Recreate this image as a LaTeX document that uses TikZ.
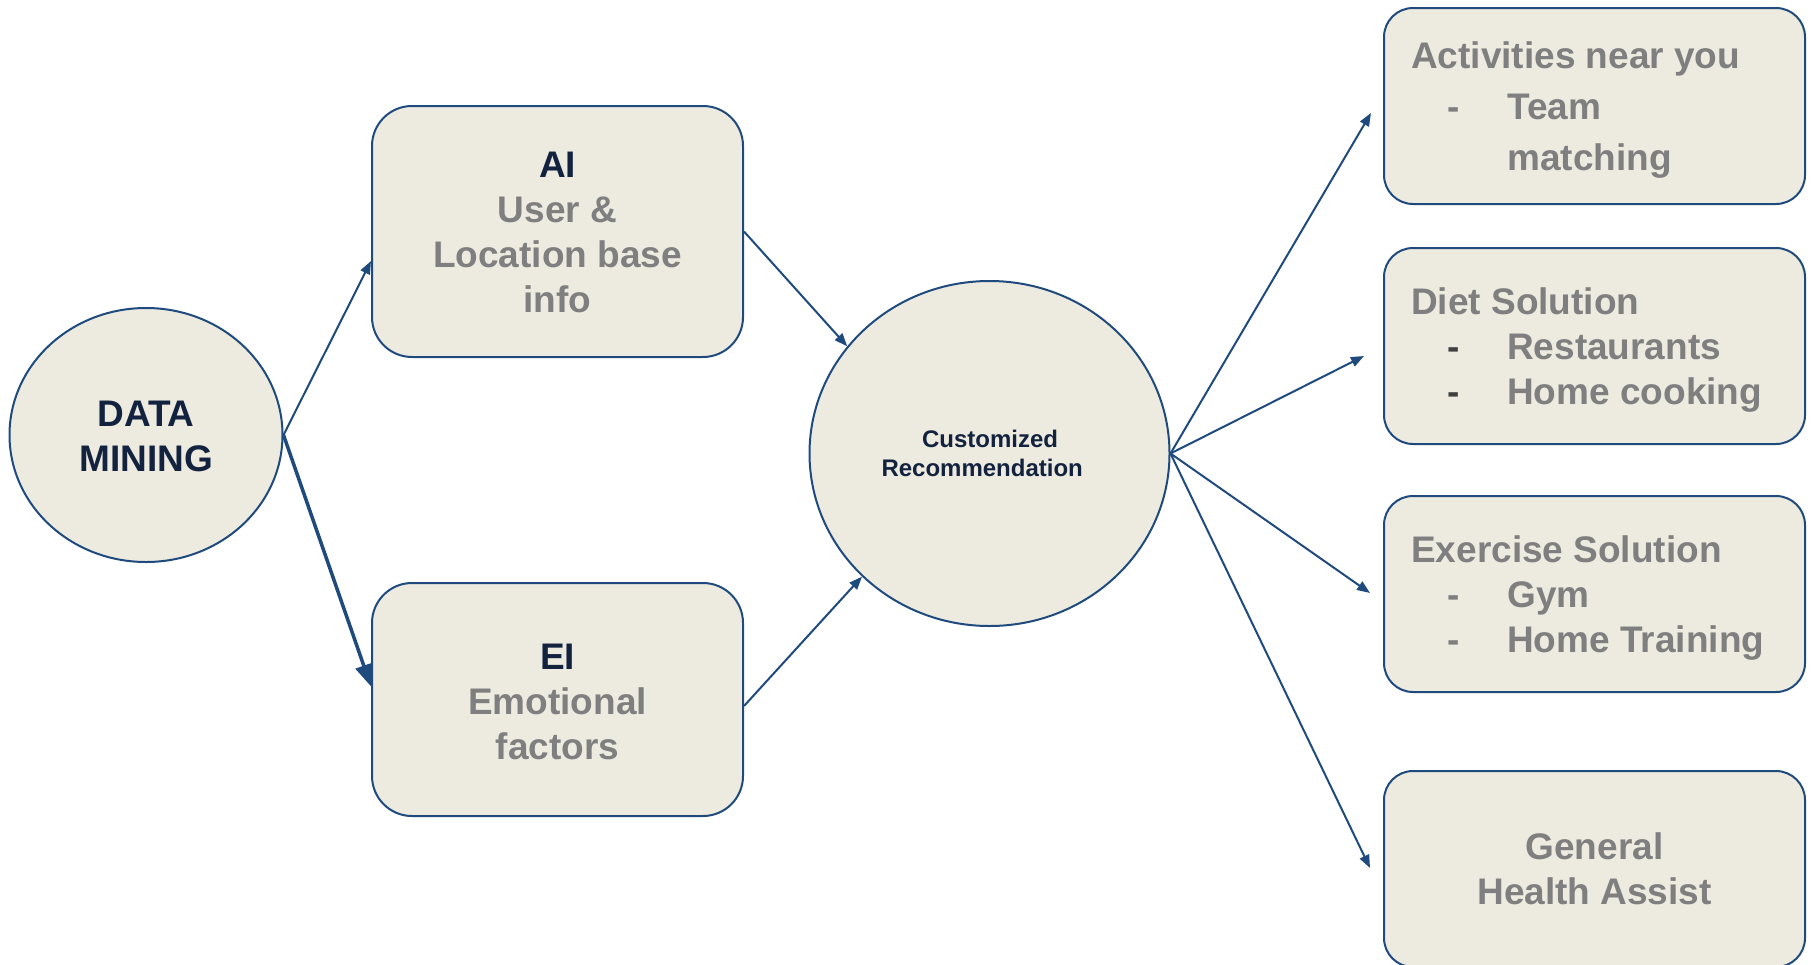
\documentclass[tikz,border=0pt]{standalone}
\usepackage{fontspec}
\setmainfont{Liberation Sans}
\usetikzlibrary{shapes.geometric,arrows.meta}
\definecolor{bfill}{HTML}{EDEBE0}
\definecolor{bline}{HTML}{1F4A7E}
\definecolor{navy}{HTML}{13233F}
\definecolor{gtext}{HTML}{7F7F7F}
\definecolor{dtext}{HTML}{404040}
\newcommand\myitem[2][gtext]{\makebox[96pt][l]{\hspace*{36pt}\textcolor{#1}{-}}#2}
\begin{document}
\begin{tikzpicture}[x=1pt,y=-1pt,
  oval/.style={ellipse, draw=bline, fill=bfill, line width=2pt, inner sep=0pt},
  lbox/.style={rectangle, draw=bline, fill=bfill, line width=2pt, rounded corners=40pt, inner sep=0pt, minimum width=371pt},
  rbox/.style={rectangle, draw=bline, fill=bfill, line width=2pt, rounded corners=29pt, inner sep=0pt, minimum width=421pt, minimum height=196pt},
  bigtext/.style={inner sep=0pt, font=\bfseries\fontsize{37}{45}\selectfont},
  arr/.style={draw=bline, line width=2pt, -{Triangle[length=13pt,width=10pt]}},
  thickarr/.style={draw=bline, line width=3.5pt, -{Triangle[length=22pt,width=17pt]}}]
\useasboundingbox (0,0) rectangle (1814,964);

% shapes
\node[oval, minimum width=273pt, minimum height=254pt] (dm) at (146,435) {};
\node[lbox, minimum height=251pt] (ai) at (557.5,231.5) {};
\node[lbox, minimum height=233pt] (ei) at (557.5,699.5) {};
\node[oval, minimum width=360pt, minimum height=345pt] (cust) at (989.5,453.5) {};
\node[rbox] (act) at (1594.5,106) {};
\node[rbox] (diet) at (1594.5,346) {};
\node[rbox] (exer) at (1594.5,594) {};
\node[rbox] (gen) at (1594.5,869) {};

% texts
\node[bigtext, text=navy, anchor=north, align=center] (dmt) at (146,391) {\rule{0pt}{35pt}DATA\\MINING};
\node[bigtext, text=gtext, anchor=north, align=center] (ait) at (557.5,142) {\rule{0pt}{35pt}\textcolor{navy}{AI}\\User \&\\Location base\\info};
\node[bigtext, text=gtext, anchor=north, align=center] (eit) at (557.5,634.5) {\rule{0pt}{35pt}\textcolor{navy}{EI}\\Emotional\\factors};
\node[inner sep=0pt, text=navy, anchor=north, align=center, font=\bfseries\fontsize{24}{29}\selectfont] (custt) at (990,424.7) {\rule{0pt}{23pt}Customized\\\makebox[217pt][l]{Recommendation}};
\node[bigtext, text=gtext, anchor=north west, align=left, font=\bfseries\fontsize{37}{51}\selectfont] (actt) at (1411,33) {\rule{0pt}{35pt}Activities near you\\\myitem{Team}\\\makebox[96pt]{}matching};
\node[bigtext, text=gtext, anchor=north west, align=left] (dictt) at (1411,279) {\rule{0pt}{35pt}Diet Solution\\\myitem[dtext]{Restaurants}\\\myitem[dtext]{Home cooking}};
\node[bigtext, text=gtext, anchor=north west, align=left] (exert) at (1411,527) {\rule{0pt}{35pt}Exercise Solution\\\myitem{Gym}\\\myitem{Home Training}};
\node[bigtext, text=gtext, anchor=north, align=center] (gent) at (1594.5,824) {\rule{0pt}{35pt}General\\Health Assist};

% connectors
\draw[arr] (dm.east) -- (ai.189);
\draw[thickarr] (dm.east) -- (ei.176);
\draw[arr] (ai.east) -- (cust.143);
\draw[arr] (ei.-2) -- (cust.224);
\draw[arr] (cust.east) -- ([xshift=-12pt,yshift=-7pt]act.west);
\draw[arr] (cust.east) -- ([xshift=-19pt,yshift=-10pt]diet.west);
\draw[arr] (cust.east) -- ([xshift=-13pt,yshift=1pt]exer.west);
\draw[arr] (cust.east) -- ([xshift=-13pt,yshift=1pt]gen.west);
\end{tikzpicture}
\end{document}
